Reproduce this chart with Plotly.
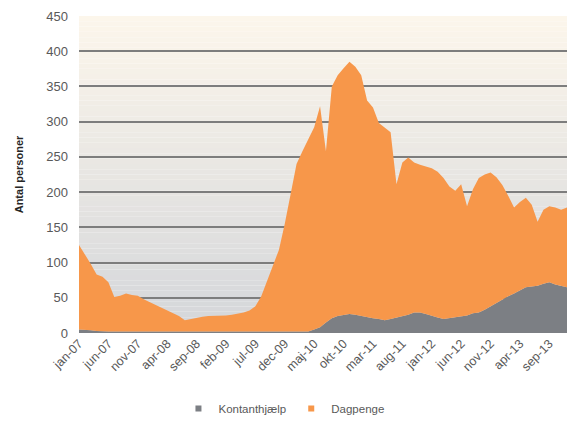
import plotly.graph_objects as go

# ---- data ----
month_abbr = ["jan", "feb", "mar", "apr", "maj", "jun", "jul", "aug", "sep", "okt", "nov", "dec"]
years = ["07", "08", "09", "10", "11", "12", "13"]
months = [f"{m}-{y}" for y in years for m in month_abbr]

kontanthjaelp = [5, 5, 4, 3, 2, 2, 2, 2, 2, 2, 2, 1,
                 1, 1, 1, 1, 1, 1, 1, 1, 1, 1, 1, 1,
                 1, 1, 1, 1, 1, 1, 1, 1, 1, 1, 1, 1,
                 1, 1, 1, 2, 5, 8, 15, 21, 24, 26, 27, 26,
                 24, 22, 21, 20, 18, 20, 22, 23, 26, 29, 29, 27,
                 24, 22, 20, 21, 23, 24, 25, 28, 29, 33, 38, 43,
                 48, 52, 56, 60, 65, 66, 67, 70, 72, 69, 67, 65]

dagpenge = [120, 107, 94, 80, 78, 70, 49, 51, 54, 52, 51, 47,
            43, 39, 36, 31, 27, 23, 17, 19, 21, 22, 23, 23,
            24, 24, 25, 26, 28, 31, 37, 51, 74, 96, 117, 154,
            199, 239, 257, 273, 287, 314, 243, 329, 342, 350, 358, 352,
            342, 308, 299, 278, 274, 265, 189, 219, 223, 213, 210, 209,
            210, 207, 200, 187, 179, 187, 155, 176, 191, 192, 190, 178,
            162, 143, 122, 126, 127, 116, 91, 105, 108, 109, 108, 113]

tick_labels = ["jan-07", "jun-07", "nov-07", "apr-08", "sep-08", "feb-09", "jul-09",
               "dec-09", "maj-10", "okt-10", "mar-11", "aug-11", "jan-12", "jun-12",
               "nov-12", "apr-13", "sep-13"]

y_ticks = [0, 50, 100, 150, 200, 250, 300, 350, 400, 450]

series = [("Kontanthjælp", kontanthjaelp, "#7c7f84"),
          ("Dagpenge", dagpenge, "#f7974a")]

# ---- figure ----
fig = go.Figure()
for name, vals, col in series:
    fig.add_trace(go.Scatter(
        x=months, y=vals, name=name, showlegend=False,
        mode="lines", stackgroup="one", line=dict(width=0, color=col),
        fillcolor=col))
# legend entries with small square markers (as in the reference)
for name, vals, col in series:
    fig.add_trace(go.Scatter(
        x=[None], y=[None], name=name, mode="markers",
        marker=dict(symbol="square", size=6, color=col), showlegend=True))

# gradient background of the plot area (cream at top -> light grey at bottom)
top = (252, 246, 235)
bot = (212, 214, 218)
n = 60
shapes = []
for i in range(n):
    t = i / (n - 1)
    c = tuple(int(round(bot[k] + (top[k] - bot[k]) * t)) for k in range(3))
    shapes.append(dict(type="rect", xref="x domain", yref="y domain",
                       x0=0, x1=1, y0=i / n, y1=(i + 1) / n,
                       fillcolor=f"rgb{c}", line=dict(width=0), layer="below"))

fig.update_layout(
    width=567, height=423,
    margin=dict(l=79, r=0, t=16, b=89),
    paper_bgcolor="white",
    plot_bgcolor="rgba(0,0,0,0)",
    shapes=shapes,
    font=dict(family="Liberation Sans, Arial, sans-serif", color="#595959", size=11),
    showlegend=True,
    legend=dict(orientation="h", x=0.42, xanchor="center", y=-0.24, yanchor="middle",
                font=dict(size=11.5, color="#595959"), traceorder="normal",
                itemwidth=30, bgcolor="rgba(0,0,0,0)"),
    xaxis=dict(
        type="category", range=[0, len(months) - 1],
        tickmode="array", tickvals=tick_labels, ticktext=tick_labels,
        tickangle=-45, showgrid=False, zeroline=False, showline=False,
        ticks="", tickfont=dict(size=12.5, color="#595959")),
    yaxis=dict(
        range=[0, 450], tickvals=y_ticks, showgrid=True,
        gridcolor="#7d7d7d", gridwidth=1.8, zeroline=False, showline=False,
        ticks="", ticklabelstandoff=10, tickfont=dict(size=13, color="#595959"),
        title=dict(text="<b>Antal personer</b>", standoff=20,
                   font=dict(size=11, color="#262626"))),
)

fig.write_html("out.html")
